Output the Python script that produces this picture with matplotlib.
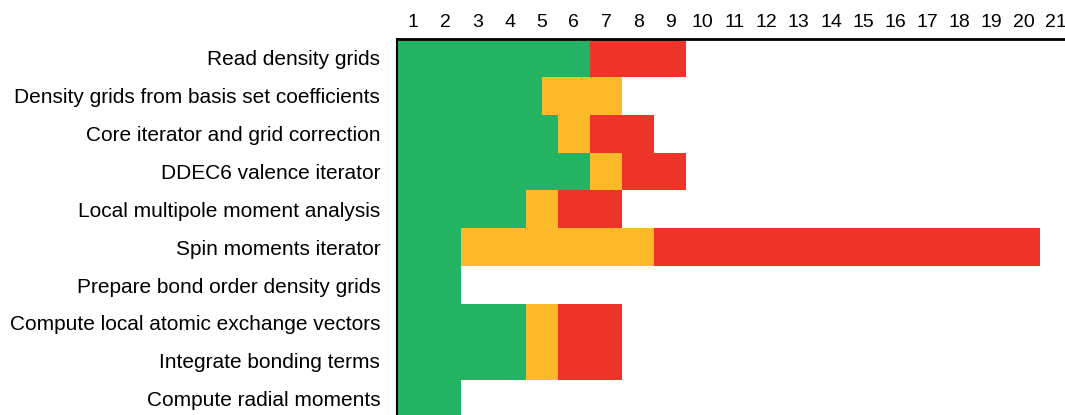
import matplotlib
matplotlib.use("Agg")
import matplotlib.pyplot as plt

tasks = [
    "Read density grids",
    "Density grids from basis set coefficients",
    "Core iterator and grid correction",
    "DDEC6 valence iterator",
    "Local multipole moment analysis",
    "Spin moments iterator",
    "Prepare bond order density grids",
    "Compute local atomic exchange vectors",
    "Integrate bonding terms",
    "Compute radial moments",
]
start = 0.5
# end positions of each phase along the step axis
green_end = [6.5, 5.0, 5.5, 6.5, 4.5, 2.5, 2.5, 4.5, 4.5, 2.5]
yellow_end = [6.5, 7.5, 6.5, 7.5, 5.5, 8.5, 2.5, 5.5, 5.5, 2.5]
red_end = [9.5, 7.5, 8.5, 9.5, 7.5, 20.5, 2.5, 7.5, 7.5, 2.5]
steps = list(range(1, 22))

GREEN = "#22b463"
YELLOW = "#fcba2a"
RED = "#ee3429"

plt.rcParams['font.family'] = ['Liberation Sans', 'DejaVu Sans']

fig = plt.figure(figsize=(10.65, 4.15), dpi=100)
ax = fig.add_axes([397 / 1065, -0.006, 1 - 397 / 1065, 1 - 39 / 415 + 0.006])

y = list(range(len(tasks)))
gw = [g - start for g in green_end]
yw = [yy - g for yy, g in zip(yellow_end, green_end)]
rw = [r - yy for r, yy in zip(red_end, yellow_end)]
ax.barh(y, gw, left=start, height=1.0, color=GREEN, linewidth=0)
ax.barh(y, yw, left=green_end, height=1.0, color=YELLOW, linewidth=0)
ax.barh(y, rw, left=yellow_end, height=1.0, color=RED, linewidth=0)

ax.set_xlim(0.5, 21.28)
ax.set_ylim(len(tasks) - 0.5, -0.5)
ax.xaxis.tick_top()
ax.set_xticks(steps)
ax.set_xticklabels([str(s) for s in steps], fontsize=14)
ax.set_yticks(y)
ax.set_yticklabels(tasks, fontsize=15)
ax.tick_params(axis='x', length=0, pad=6)
ax.tick_params(axis='y', length=0, pad=12)
for s in ['right', 'bottom']:
    ax.spines[s].set_visible(False)
ax.spines['top'].set_linewidth(2.0)
ax.spines['left'].set_linewidth(1.5)

fig.savefig("out.png", dpi=100)
